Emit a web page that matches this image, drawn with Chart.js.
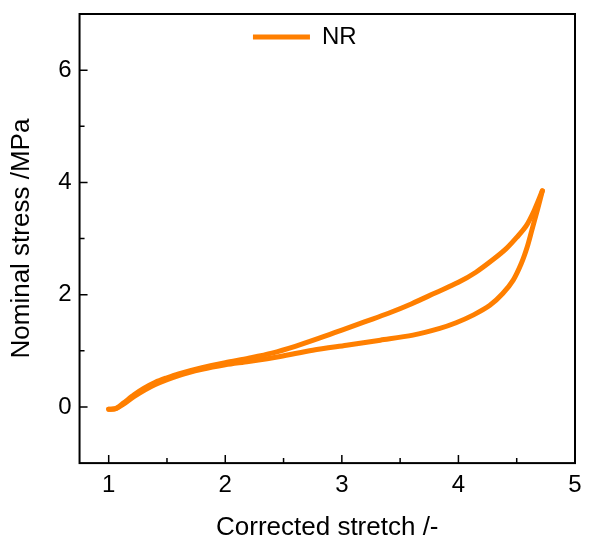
<!DOCTYPE html>
<html>
<head>
<meta charset="utf-8">
<script src="https://cdn.jsdelivr.net/npm/chart.js@4"></script>
<style>
  html, body { margin: 0; padding: 0; background: #fff; }
  #wrap { width: 590px; height: 539px; }
</style>
</head>
<body>
<div id="wrap"><canvas id="nr"></canvas></div>
<script>
// loading branch (stretch -> stress)
const stretchLoad = [1.00, 1.06, 1.12, 1.22, 1.30, 1.40, 1.50, 1.60, 1.80, 2.00, 2.20, 2.40, 2.60, 2.80, 3.00, 3.20, 3.40, 3.60, 3.80, 4.00, 4.15, 4.30, 4.41, 4.50, 4.58, 4.65, 4.72];
const stressLoad  = [-0.04, -0.03, 0.06, 0.22, 0.33, 0.44, 0.52, 0.59, 0.70, 0.79, 0.87, 0.96, 1.08, 1.22, 1.37, 1.52, 1.67, 1.84, 2.03, 2.22, 2.40, 2.63, 2.82, 3.02, 3.22, 3.50, 3.85];
// unloading branch
const stretchUnload = [4.72, 4.68, 4.63, 4.59, 4.54, 4.47, 4.38, 4.27, 4.13, 3.98, 3.84, 3.61, 3.33, 3.04, 2.75, 2.47, 2.20, 2.00, 1.80, 1.60, 1.40, 1.22, 1.12, 1.06, 1.00];
const stressUnload  = [3.85, 3.53, 3.15, 2.85, 2.56, 2.26, 2.02, 1.81, 1.64, 1.50, 1.40, 1.28, 1.19, 1.10, 1.01, 0.90, 0.81, 0.75, 0.67, 0.56, 0.40, 0.19, 0.04, -0.03, -0.04];

const xMajor = [1, 2, 3, 4, 5];
const xMinor = [1.5, 2.5, 3.5, 4.5];
const yMajor = [0, 2, 4, 6];
const yMinor = [1, 3, 5];

const orange = '#ff7f00';
const family = '"Liberation Sans", Arial, sans-serif';
const tickFont = { family: family, size: 24 };
const titleFont = { family: family, size: 26 };

const toPts = (xs, ys) => xs.map((x, i) => ({ x: x, y: ys[i] }));

// box frame + inward ticks, legend moved inside the frame
const frameTicks = {
    id: 'frameTicks',
    afterLayout(chart) {
        const lg = chart.legend;
        const a = chart.chartArea;
        if (lg) {
            const w = lg.right - lg.left;
            const h = lg.bottom - lg.top;
            lg.left = a.left + (a.right - a.left) * 0.35 - 11;
            lg.right = lg.left + w;
            lg.top = a.top;
            lg.bottom = a.top + h;
        }
    },
    afterDraw(chart) {
        const ctx = chart.ctx;
        const a = chart.chartArea;
        const sx = chart.scales.x, sy = chart.scales.y;
        ctx.save();
        ctx.strokeStyle = '#000';
        ctx.lineWidth = 2;
        ctx.strokeRect(a.left, a.top, a.right - a.left, a.bottom - a.top);
        ctx.lineWidth = 1.5;
        ctx.beginPath();
        sx.ticks.forEach(t => {
            const px = sx.getPixelForValue(t.value);
            const len = xMajor.includes(t.value) ? 8 : 5;
            ctx.moveTo(px, a.bottom);
            ctx.lineTo(px, a.bottom - len);
        });
        sy.ticks.forEach(t => {
            const py = sy.getPixelForValue(t.value);
            const len = yMajor.includes(t.value) ? 8 : 5;
            ctx.moveTo(a.left, py);
            ctx.lineTo(a.left + len, py);
        });
        ctx.stroke();
        ctx.restore();
    }
};

const lineStyle = {
    showLine: true,
    borderColor: orange,
    backgroundColor: orange,
    borderWidth: 5,
    borderCapStyle: 'round',
    borderJoinStyle: 'round',
    pointRadius: 0,
    tension: 0.3
};

new Chart(document.getElementById('nr'), {
    type: 'scatter',
    data: {
        datasets: [
            Object.assign({ label: 'NR', data: toPts(stretchLoad, stressLoad) }, lineStyle),
            Object.assign({ label: 'NR unload', data: toPts(stretchUnload, stressUnload) }, lineStyle)
        ]
    },
    options: {
        responsive: true,
        maintainAspectRatio: false,
        animation: false,
        layout: { padding: { top: 14, right: 15, left: 6, bottom: 0 } },
        plugins: {
            tooltip: { enabled: false },
            legend: {
                position: 'chartArea',
                align: 'start',
                labels: {
                    usePointStyle: true,
                    pointStyle: 'line',
                    pointStyleWidth: 57,
                    color: '#000',
                    font: { family: family, size: 24 },
                    padding: 11,
                    filter: item => item.datasetIndex === 0
                }
            }
        },
        scales: {
            x: {
                type: 'linear',
                min: 0.75,
                max: 5,
                afterBuildTicks: s => { s.ticks = xMajor.concat(xMinor).sort((a, b) => a - b).map(v => ({ value: v })); },
                afterFit: s => { s.paddingLeft = 0; s.paddingRight = 0; },
                ticks: {
                    color: '#000',
                    font: tickFont,
                    padding: 8,
                    maxRotation: 0,
                    autoSkip: false,
                    callback: v => xMajor.includes(v) ? String(v) : ''
                },
                grid: { display: false, drawTicks: false },
                border: { display: false },
                title: {
                    display: true, text: 'Corrected stretch /-', color: '#000',
                    font: { family: family, size: 26, lineHeight: 0.85 },
                    padding: { top: 9, bottom: 0 }
                }
            },
            y: {
                type: 'linear',
                min: -1,
                max: 7,
                afterBuildTicks: s => { s.ticks = yMajor.concat(yMinor).sort((a, b) => a - b).map(v => ({ value: v })); },
                afterFit: s => { s.paddingTop = 0; s.paddingBottom = 0; },
                ticks: {
                    color: '#000',
                    font: tickFont,
                    padding: 8,
                    autoSkip: false,
                    callback: v => yMajor.includes(v) ? String(v) : ''
                },
                grid: { display: false, drawTicks: false },
                border: { display: false },
                title: { display: true, text: 'Nominal stress /MPa', color: '#000', font: titleFont, padding: { top: 0, bottom: 13 } }
            }
        }
    },
    plugins: [frameTicks]
});
</script>
</body>
</html>
